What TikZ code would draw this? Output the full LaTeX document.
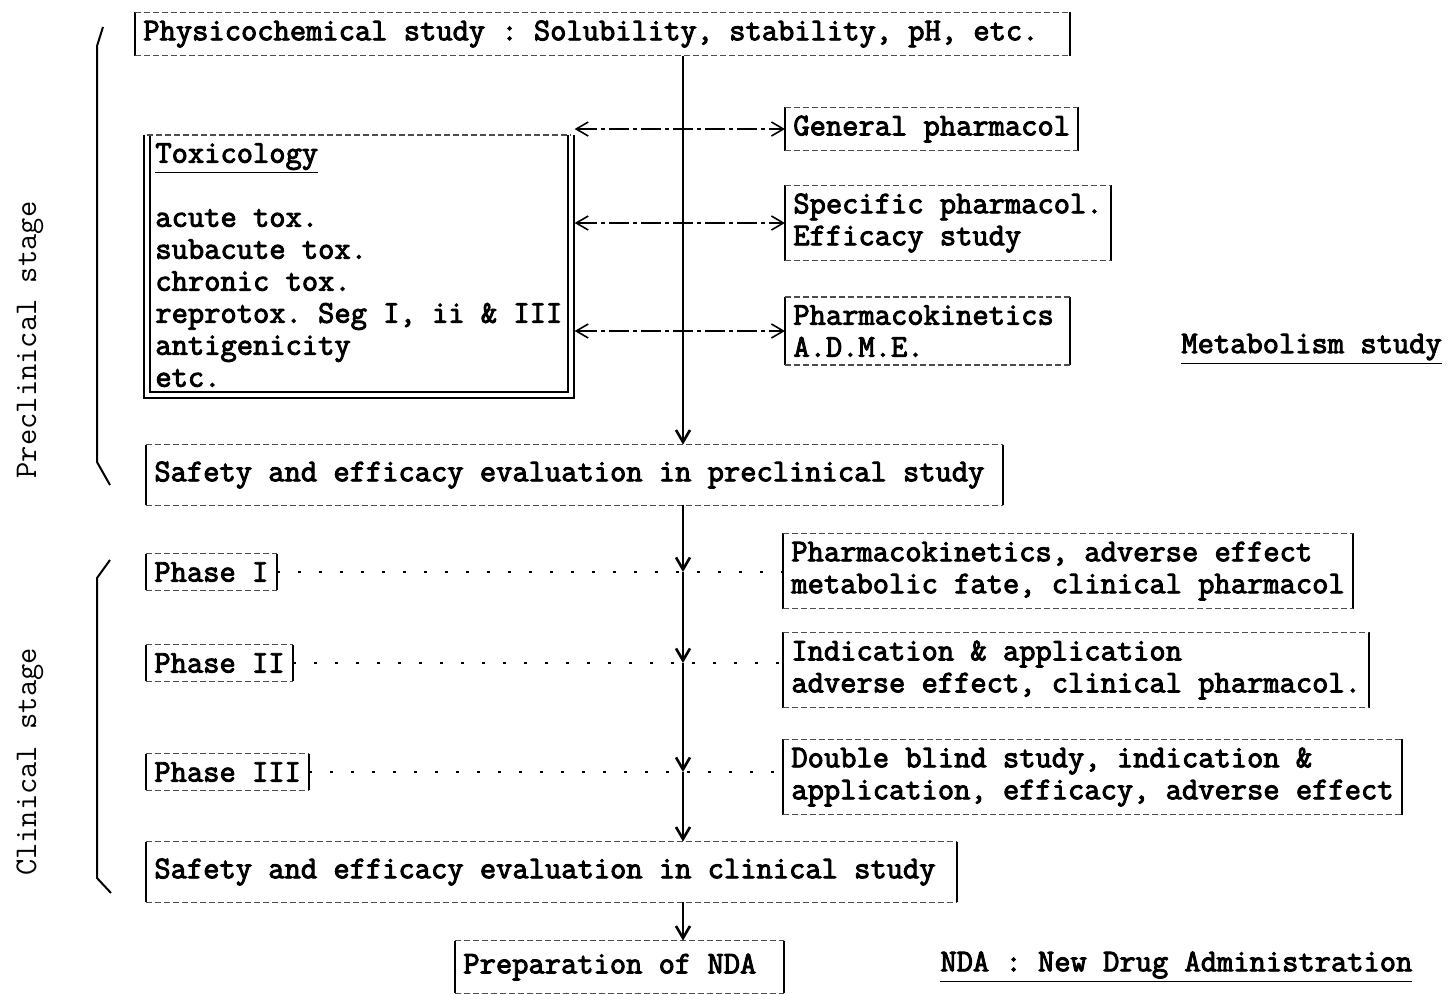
\documentclass[tikz,border=0pt]{standalone}
\usepackage{fontspec}
\setmonofont{Latin Modern Mono}[AutoFakeBold=3]
\usetikzlibrary{arrows.meta}
\newcommand{\tyfont}{\fontsize{15.8}{16}\selectfont\ttfamily\bfseries}
\newcommand{\tylight}{\fontsize{15.8}{16}\selectfont\ttfamily}
\newcommand{\fixw}[2]{\makebox[#1][l]{#2}}

\begin{document}
\begin{tikzpicture}[x=0.5pt, y=-0.5pt, >={Straight Barb[length=6pt,width=7pt]},
		box/.style={anchor=west, align=left, inner xsep=4pt, inner ysep=4pt, font=\tyfont},
		vside/.style={line width=1pt},
		hside/.style={line width=0.6pt, black!70, dash pattern=on 3pt off 1.5pt},
		lnk/.style={<->, line width=0.8pt, dash pattern=on 10pt off 2pt on 2pt off 2pt},
		plink/.style={line width=0.8pt, dash pattern=on 1.5pt off 9pt},
		axis/.style={->, line width=1.3pt}]
		\useasboundingbox (0,0) rectangle (1448,993);

		%preclinical stage
		\node[box] (phys) at (135,34) {\fixw{459pt}{Physicochemical study : Solubility, stability, pH, etc.}};
		\node[box, anchor=north west] (tox) at (147,135) {\underline{Toxicology}\\[16pt]acute tox.\\subacute tox.\\chronic tox.\\reprotox. Seg I, ii \& III\\antigenicity\\etc.};
		\node[box] (genph) at (785,129) {General pharmacol};
		\node[box] (spec) at (785,223) {Specific pharmacol.\\Efficacy study};
		\node[box] (pk) at (785,331) {\fixw{134pt}{Pharmacokinetics}\\A.D.M.E.};
		\node[box] (meta) at (1173,349) {\underline{Metabolism study}};
		\node[box, minimum height=30pt] (safe1) at (146,475) {\fixw{420pt}{Safety and efficacy evaluation in preclinical study}};

		%clinical stage
		\node[box] (ph1) at (146,572) {Phase I};
		\node[box] (ph2) at (146,663) {Phase II};
		\node[box] (ph3) at (146,772) {Phase III};
		\node[box] (pk2) at (783,571) {Pharmacokinetics, adverse effect\\metabolic fate, clinical pharmacol};
		\node[box] (ind) at (783,670) {Indication \& application\\adverse effect, clinical pharmacol.};
		\node[box] (dbl) at (783,777) {Double blind study, indication \&\\application, efficacy, adverse effect};
		\node[box, minimum height=30pt] (safe2) at (146,872) {\fixw{397pt}{Safety and efficacy evaluation in clinical study}};
		\node[box, minimum height=26pt] (nda) at (455,967) {\fixw{156pt}{Preparation of NDA}};
		\node[box] (ndakey) at (932,967) {\underline{NDA : New Drug Administration}};

		\foreach \b in {phys, genph, spec, pk, safe1, ph1, ph2, ph3, pk2, ind, dbl, safe2, nda}{
			\draw[vside] (\b.north west) -- (\b.south west) (\b.north east) -- (\b.south east);
			\draw[hside] (\b.north west) -- (\b.north east) (\b.south west) -- (\b.south east);
		}
		\draw[vside, double distance=2pt] (tox.north west) -- (tox.south west) -- (tox.south east) -- (tox.north east);
		\draw[hside] (tox.north west) -- (tox.north east);

		%stage brackets
		\draw[line width=1pt] (103,27) -- (97,46) -- (97,462) -- (110,485);
		\draw[line width=1pt] (110,560) -- (97,578) -- (97,878) -- (111,893);
		\node[rotate=90, font=\tylight] (pre) at (30,340) {Preclinical stage};
		\node[rotate=90, font=\tylight] (cli) at (30,762) {Clinical stage};

		%main axis
		\coordinate (ax) at (683,0);
		\draw[axis] (phys.south -| ax) -- (safe1.north -| ax);
		\foreach \a/\b in {safe1.south/ph1, ph1/ph2, ph2/ph3, ph3/safe2.north, safe2.south/nda.north}{
			\draw[axis] (\a -| ax) -- (\b -| ax);
		}

		\draw[lnk] ([xshift=2pt]tox.east |- genph) -- (genph.west);
		\draw[lnk] ([xshift=2pt]tox.east |- spec) -- (spec.west);
		\draw[lnk] ([xshift=2pt]tox.east |- pk) -- (pk.west);
		\foreach \p/\q in {ph1/pk2, ph2/ind, ph3/dbl}{
			\draw[plink] (\p.east) -- (\p.east -| \q.west);
		}
\end{tikzpicture}
\end{document}
